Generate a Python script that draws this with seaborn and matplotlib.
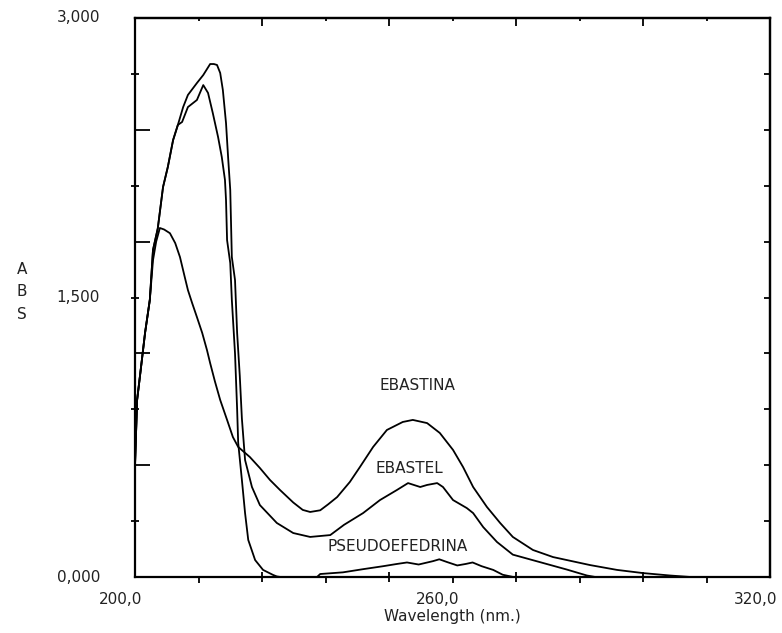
import numpy as np
import pandas as pd
import matplotlib
matplotlib.use("Agg")
import matplotlib.pyplot as plt
import matplotlib.transforms as mtransforms
import seaborn as sns

# ---------------- data ----------------
ebastina_nm = [200.0, 200.4, 201.3, 201.9, 202.8, 203.4, 204.0, 204.7, 205.5, 206.6,
               207.6, 208.5, 209.4, 210.0, 210.8, 211.7, 212.7, 213.6, 214.2, 215.1,
               216.1, 217.4, 218.5, 219.5, 221.7, 223.6, 225.5, 227.4, 229.9, 231.7,
               233.1, 235.0, 236.5, 238.2, 240.6, 242.5, 245.0, 247.6, 250.6, 252.5,
               255.2, 257.6, 260.1, 262.0, 263.9, 266.5, 269.0, 271.4, 275.2, 279.0,
               281.6, 286.0, 291.1, 296.0, 301.1, 305.0, 320.0]
ebastina_abs = [600, 950, 1165, 1310, 1487, 1700, 1800, 1873, 1865, 1845,
                1792, 1717, 1610, 1540, 1470, 1395, 1310, 1218, 1148, 1050,
                950, 843, 751, 698, 644, 585, 521, 467, 400, 360,
                349, 358, 390, 429, 510, 590, 698, 789, 832, 843,
                826, 773, 682, 590, 483, 376, 290, 215, 145, 107,
                91, 64, 38, 21, 8, 0, 0]

ebastel_nm = [200.0, 200.4, 201.3, 201.9, 202.8, 203.4, 204.3, 205.3, 206.2, 207.2,
              208.1, 209.1, 210.0, 211.7, 212.9, 214.2, 214.9, 215.5, 216.1, 216.6,
              217.2, 217.6, 218.0, 218.3, 218.9, 219.3, 219.8, 220.2, 220.8, 222.1,
              223.6, 226.8, 229.9, 233.1, 236.9, 239.5, 243.1, 246.3, 249.5, 251.6,
              253.9, 255.2, 257.1, 258.2, 260.1, 262.7, 263.9, 265.8, 268.4, 271.4,
              276.5, 281.6, 285.4, 287.0, 320.0]
ebastel_abs = [600, 950, 1165, 1310, 1487, 1755, 1870, 2093, 2200, 2345,
               2426, 2522, 2587, 2651, 2694, 2753, 2753, 2748, 2705, 2614,
               2436, 2250, 2077, 1717, 1594, 1310, 1080, 850, 628, 483,
               386, 290, 236, 215, 225, 280, 343, 413, 467, 504,
               483, 494, 504, 483, 413, 370, 343, 268, 188, 120,
               80, 40, 8, 0, 0]

pseudo_nm = [200.0, 200.4, 201.3, 201.9, 202.8, 203.4, 204.3, 205.3, 206.2, 207.2,
             208.1, 208.9, 210.0, 211.7, 212.9, 213.8, 214.7, 215.7, 216.4, 217.0,
             217.2, 217.4, 218.0, 218.3, 218.9, 219.3, 219.5, 220.2, 220.8, 221.4,
             222.7, 224.2, 226.1, 226.8, 227.5, 234.4, 235.0, 239.3, 243.1, 246.9,
             249.5, 251.4, 253.6, 256.3, 257.5, 259.0, 260.9, 262.5, 263.8, 265.5,
             267.7, 269.5, 271.5, 320.0]
pseudo_abs = [600, 950, 1165, 1310, 1487, 1755, 1870, 2093, 2200, 2345,
              2426, 2442, 2522, 2560, 2640, 2598, 2490, 2361, 2254, 2131,
              2023, 1808, 1685, 1487, 1200, 900, 720, 521, 343, 199,
              91, 38, 11, 3, 0, 0, 16, 25, 42, 58,
              70, 78, 67, 85, 95, 80, 62, 70, 78, 58,
              38, 12, 0, 0]

sample_names = ["EBASTINA", "EBASTEL", "PSEUDOEFEDRINA"]
label_nm = [253.3, 251.9, 249.7]
label_abs = [1030, 580, 164]

x_major_ticks = [224, 248, 272, 296]
x_minor_ticks = [212, 236, 260, 284, 308]
y_major_ticks = [600, 1200, 1800, 2400]
y_minor_ticks = [300, 900, 1500, 2100, 2700]
x_tick_labels = ["200,0", "260,0", "320,0"]
x_tick_label_pos = [200, 260, 320]
y_tick_labels = ["0,000", "1,500", "3,000"]
y_tick_label_pos = [0, 1500, 3000]

# ---------------- figure ----------------
sns.set_theme(style="white")
plt.rcParams["font.family"] = ["DejaVu Sans"]

df = pd.concat([
    pd.DataFrame({"nm": ebastina_nm, "abs": ebastina_abs, "sample": "EBASTINA"}),
    pd.DataFrame({"nm": ebastel_nm, "abs": ebastel_abs, "sample": "EBASTEL"}),
    pd.DataFrame({"nm": pseudo_nm, "abs": pseudo_abs, "sample": "PSEUDOEFEDRINA"}),
], ignore_index=True)

W, H = 782, 633
fig = plt.figure(figsize=(W / 100, H / 100), dpi=100)
fig.patch.set_facecolor("white")
ax = fig.add_axes([135 / W, 1 - 577 / H, 635 / W, 559 / H])

sns.lineplot(data=df, x="nm", y="abs", hue="sample", estimator=None, sort=False,
             palette={n: "black" for n in sample_names}, legend=False,
             linewidth=1.3, ax=ax)

ax.set_xlim(200, 320)
ax.set_ylim(0, 3000)
ax.set_xlabel("")
ax.set_ylabel("")

for s in ax.spines.values():
    s.set_color("black")
    s.set_linewidth(1.6)
    s.set_visible(True)

# bottom / left ticks
ax.set_xticks(x_major_ticks)
ax.set_xticks(x_minor_ticks, minor=True)
ax.set_yticks(y_major_ticks)
ax.set_yticks(y_minor_ticks, minor=True)
ax.tick_params(axis="x", which="major", direction="inout", length=7, width=1.3,
               color="black", labelbottom=False, bottom=True, top=False)
ax.tick_params(axis="x", which="minor", direction="out", length=4, width=1.3,
               color="black", bottom=True, top=False)
ax.tick_params(axis="y", which="major", direction="in", length=11, width=1.3,
               color="black", labelleft=False, left=True, right=False)
ax.tick_params(axis="y", which="minor", direction="inout", length=6, width=1.3,
               color="black", left=True, right=False)

# top / right ticks
secx = ax.secondary_xaxis("top")
secx.set_xticks(x_major_ticks)
secx.set_xticks(x_minor_ticks, minor=True)
secx.tick_params(which="major", direction="in", length=6, width=1.3, color="black", labeltop=False)
secx.tick_params(which="minor", direction="in", length=2.5, width=1.3, color="black")
secx.spines["top"].set_linewidth(1.6)
secx.spines["top"].set_color("black")

secy = ax.secondary_yaxis("right")
secy.set_yticks(y_major_ticks)
secy.set_yticks(y_minor_ticks, minor=True)
secy.tick_params(which="major", direction="in", length=4, width=1.3, color="black", labelright=False)
secy.tick_params(which="minor", direction="in", length=4, width=1.3, color="black")
secy.spines["right"].set_linewidth(1.6)
secy.spines["right"].set_color("black")

fs = 11
# y tick labels
ytrans = mtransforms.blended_transform_factory(ax.transAxes, ax.transData)
for lab, pos in zip(y_tick_labels, y_tick_label_pos):
    ax.text(-35 / 635, pos, lab, transform=ytrans, ha="right", va="center",
            fontsize=fs, color="#222222")

# x tick labels (drawn slightly left of the tick, as in the reference)
xtrans = mtransforms.blended_transform_factory(ax.transData, ax.transAxes)
for lab, pos in zip(x_tick_labels, x_tick_label_pos):
    ax.text(pos - 2.8, -22 / 559, lab, transform=xtrans, ha="center", va="center",
            fontsize=fs, color="#222222")
ax.text(260, -40 / 559, "Wavelength (nm.)", transform=xtrans, ha="center",
        va="center", fontsize=fs, color="#222222")

# vertical "ABS"
for ch, ypx in zip("ABS", [269, 292, 315]):
    fig.text(22 / W, 1 - ypx / H, ch, ha="center", va="center", fontsize=fs,
             color="#222222")

# curve labels
for name, lx, ly in zip(sample_names, label_nm, label_abs):
    ax.text(lx, ly, name, ha="center", va="center", fontsize=fs, color="#222222")

fig.savefig("out.png", dpi=100)
